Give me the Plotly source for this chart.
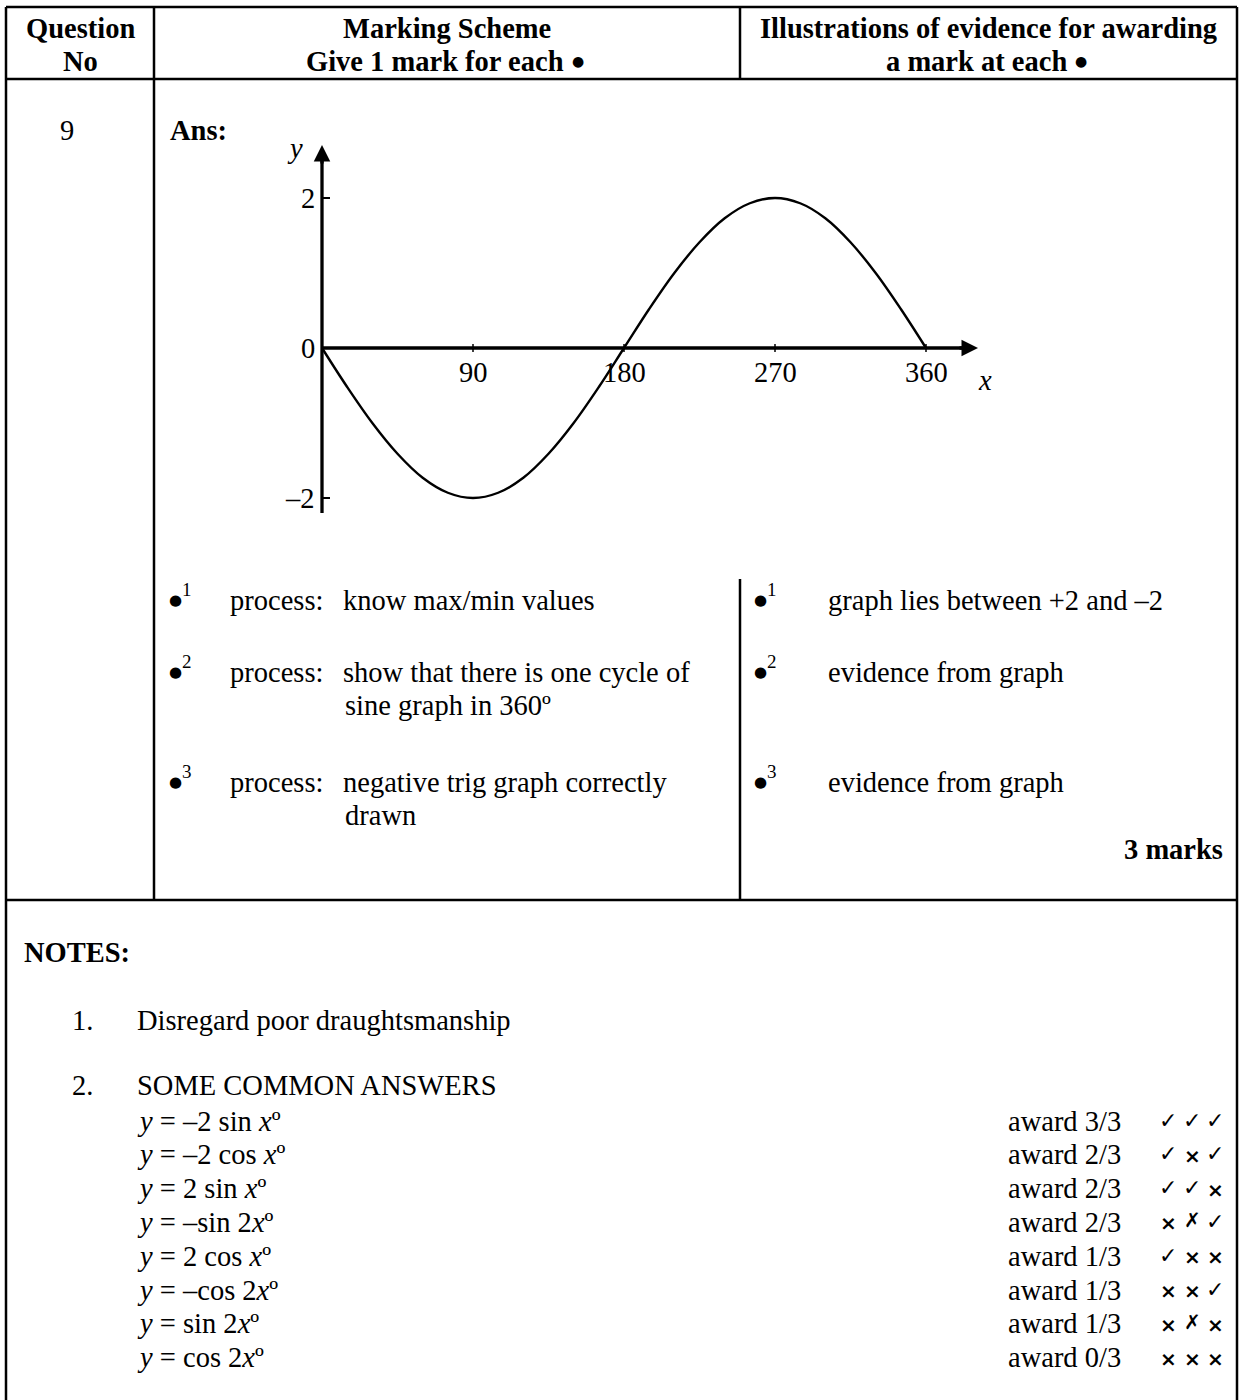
import plotly.graph_objects as go

W, H = 1240, 1400
FONT = "Liberation Serif"
SYM = "DejaVu Sans"
FS = 28.5
BLACK = "#000000"

# ---------------- data ----------------
curve_x = [0, 15, 30, 45, 60, 75, 90, 105, 120, 135, 150, 165, 180,
           195, 210, 225, 240, 255, 270, 285, 300, 315, 330, 345, 360]
curve_y = [0.0, -0.52, -1.0, -1.41, -1.73, -1.93, -2.0, -1.93, -1.73, -1.41, -1.0, -0.52, 0.0,
           0.52, 1.0, 1.41, 1.73, 1.93, 2.0, 1.93, 1.73, 1.41, 1.0, 0.52, 0.0]
x_tick_vals = [90, 180, 270, 360]
x_tick_text = ["90", "180", "270", "360"]
y_tick_vals = [2, 0, -2]
y_tick_text = ["2", "0", "–2"]

header_col1 = ["Question", "No"]
header_col2 = ["Marking Scheme", "Give 1 mark for each"]
header_col3 = ["Illustrations of evidence for awarding", "a mark at each"]

bullet_numbers = ["1", "2", "3"]
process_lines = [["know max/min values"],
                 ["show that there is one cycle of", "sine graph in 360º"],
                 ["negative trig graph correctly", "drawn"]]
evidence_lines = ["graph lies between +2 and –2", "evidence from graph", "evidence from graph"]

answers = ["<i>y</i> = –2 sin <i>x</i>º", "<i>y</i> = –2 cos <i>x</i>º", "<i>y</i> = 2 sin <i>x</i>º",
           "<i>y</i> = –sin 2<i>x</i>º", "<i>y</i> = 2 cos <i>x</i>º", "<i>y</i> = –cos 2<i>x</i>º",
           "<i>y</i> = sin 2<i>x</i>º", "<i>y</i> = cos 2<i>x</i>º"]
awards = ["award 3/3", "award 2/3", "award 2/3", "award 2/3",
          "award 1/3", "award 1/3", "award 1/3", "award 0/3"]
marks = [["✓", "✓", "✓"], ["✓", "×", "✓"], ["✓", "✓", "×"], ["×", "✗", "✓"],
         ["✓", "×", "×"], ["×", "×", "✓"], ["×", "✗", "×"], ["×", "×", "×"]]

# ---------------- helpers ----------------
def px(x):
    return x / W

def py(y):
    return 1 - y / H

annotations = []
shapes = []

def txt(x, y, s, size=FS, xanchor="left", family=FONT, bold=False):
    if bold:
        s = "<b>" + s + "</b>"
    annotations.append(dict(x=px(x), y=py(y), xref="paper", yref="paper", text=s,
                            showarrow=False, xanchor=xanchor, yanchor="middle",
                            font=dict(family=family, size=size, color=BLACK)))

def hline(x0, x1, y, w=2.5):
    shapes.append(dict(type="line", xref="paper", yref="paper", x0=px(x0), x1=px(x1),
                       y0=py(y), y1=py(y), line=dict(color=BLACK, width=w)))

def vline(x, y0, y1, w=2.5):
    shapes.append(dict(type="line", xref="paper", yref="paper", x0=px(x), x1=px(x),
                       y0=py(y0), y1=py(y1), line=dict(color=BLACK, width=w)))

def dot(x, y, size=15):
    txt(x, y, "●", size=size, xanchor="center", family=SYM)

def bullet(x, y, num):
    dot(x, y)
    txt(x + 5, y - 11, num, size=19, xanchor="left")

# ---------------- table frame ----------------
L, R, TOP = 6, 1237, 7
hline(L, R, TOP)
hline(L, R, 79)
hline(L, R, 900)
vline(L, TOP, H + 5)
vline(R, TOP, H + 5)
vline(154, TOP, 900)
vline(740, TOP, 79)
vline(740, 579, 900)

# header
for i, s in enumerate(header_col1):
    txt(80, 28 + 33 * i, s, xanchor="center", bold=True)
txt(447, 28, header_col2[0], xanchor="center", bold=True)
txt(566, 61, header_col2[1], xanchor="right", bold=True)
dot(578, 61, size=14)
txt(988, 28, header_col3[0], xanchor="center", bold=True)
txt(1069, 61, header_col3[1], xanchor="right", bold=True)
dot(1081, 61, size=14)

# question number and answer
txt(67, 131, "9", xanchor="center")
txt(168, 131, "Ans:", bold=True)

# marking scheme rows
row_y = [600, 672, 782]
for i, y in enumerate(row_y):
    bullet(175, y, bullet_numbers[i])
    txt(228, y, "process:")
    for j, s in enumerate(process_lines[i]):
        txt(341 if j == 0 else 343, y + 33 * j, s)
    bullet(760, y, bullet_numbers[i])
    txt(826, y, evidence_lines[i])
txt(1225, 850, "3 marks", xanchor="right", bold=True)

# notes
txt(22, 952, "NOTES:", bold=True)
txt(70, 1020, "1.")
txt(135, 1020, "Disregard poor draughtsmanship")
txt(70, 1085, "2.")
txt(135, 1085, "SOME COMMON ANSWERS")
mark_cols = [1168, 1192, 1215]
for i in range(len(answers)):
    y = 1121 + 33.8 * i
    txt(135, y, answers[i])
    txt(1006, y, awards[i])
    for j, m in enumerate(marks[i]):
        if m == "×":
            txt(mark_cols[j], y + 1, "<b>×</b>", size=20, xanchor="center", family=SYM)
        elif m == "✗":
            txt(mark_cols[j], y - 2, m, size=20, xanchor="center", family=SYM)
        else:
            txt(mark_cols[j], y - 1, m, size=22, xanchor="center", family=SYM)

# ---------------- graph ----------------
X0PX, XS = 322, 151 / 90.0
Y0PX, YS = 348, 75.0
GX0, GX1, GY0, GY1 = 270, 1010, 120, 540
x_range = [(GX0 - X0PX) / XS, (GX1 - X0PX) / XS]
y_range = [(Y0PX - GY1) / YS, (Y0PX - GY0) / YS]

fig = go.Figure()
fig.add_trace(go.Scatter(x=curve_x, y=curve_y, mode="lines",
                         line=dict(color=BLACK, width=2.4, shape="spline", smoothing=1.0),
                         hoverinfo="skip", showlegend=False))

x_tip = (978 - X0PX) / XS
y_tip = (Y0PX - 145) / YS
y_bot = (Y0PX - 513) / YS
# axis lines
shapes.append(dict(type="line", xref="x", yref="y", x0=0, x1=x_tip - 8 / XS, y0=0, y1=0,
                   line=dict(color=BLACK, width=3.3)))
shapes.append(dict(type="line", xref="x", yref="y", x0=0, x1=0, y0=y_bot, y1=y_tip - 8 / YS,
                   line=dict(color=BLACK, width=3.3)))
# arrowheads
annotations.append(dict(x=x_tip, y=0, xref="x", yref="y", ax=-20, ay=0, text="",
                        showarrow=True, arrowhead=2, arrowsize=1.0, arrowwidth=3.3,
                        arrowcolor=BLACK, standoff=0))
annotations.append(dict(x=0, y=y_tip, xref="x", yref="y", ax=0, ay=20, text="",
                        showarrow=True, arrowhead=2, arrowsize=1.0, arrowwidth=3.3,
                        arrowcolor=BLACK, standoff=0))
# tick marks
for v in x_tick_vals:
    shapes.append(dict(type="line", xref="x", yref="y", x0=v, x1=v, ysizemode="pixel",
                       yanchor=0, y0=-4, y1=4, line=dict(color=BLACK, width=1.5)))
for v in y_tick_vals:
    if v != 0:
        shapes.append(dict(type="line", xref="x", yref="y", y0=v, y1=v, xsizemode="pixel",
                           xanchor=0, x0=0, x1=8, line=dict(color=BLACK, width=2)))
# tick labels
for v, t in zip(x_tick_vals, x_tick_text):
    annotations.append(dict(x=v, y=0, xref="x", yref="y", text=t, showarrow=False,
                            xanchor="center", yanchor="middle", yshift=-24,
                            font=dict(family=FONT, size=FS, color=BLACK)))
for v, t in zip(y_tick_vals, y_tick_text):
    annotations.append(dict(x=0, y=v, xref="x", yref="y", text=t, showarrow=False,
                            xanchor="right", yanchor="middle", xshift=-5,
                            font=dict(family=FONT, size=FS, color=BLACK)))
# axis names
annotations.append(dict(x=x_tip, y=0, xref="x", yref="y", text="<i>x</i>", showarrow=False,
                        xanchor="center", yanchor="middle", xshift=7, yshift=-32,
                        font=dict(family=FONT, size=FS, color=BLACK)))
annotations.append(dict(x=0, y=y_tip, xref="x", yref="y", text="<i>y</i>", showarrow=False,
                        xanchor="center", yanchor="middle", xshift=-27, yshift=-3,
                        font=dict(family=FONT, size=FS, color=BLACK)))

fig.update_layout(
    width=W, height=H,
    margin=dict(l=0, r=0, t=0, b=0),
    paper_bgcolor="white", plot_bgcolor="rgba(0,0,0,0)",
    xaxis=dict(domain=[GX0 / W, GX1 / W], range=x_range, visible=False, fixedrange=True),
    yaxis=dict(domain=[1 - GY1 / H, 1 - GY0 / H], range=y_range, visible=False, fixedrange=True),
    shapes=shapes,
    annotations=annotations,
    showlegend=False,
)

fig.write_html("out.html", config={"displayModeBar": False},
               post_script="document.body.style.margin='0';document.body.style.overflow='hidden';")
